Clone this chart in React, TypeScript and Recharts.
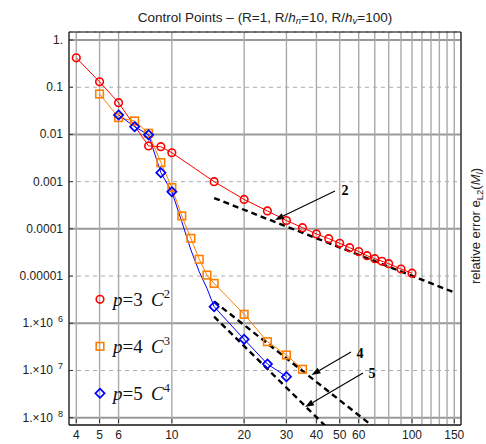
import React from "react"
import { LineChart, Line, XAxis, YAxis, CartesianGrid } from "recharts"

// error data (x = R/h, y = relative error)
const redX = [4, 5, 6, 8, 9, 10, 15, 20, 25, 30, 35, 40, 45, 50, 55, 60, 65, 70, 75, 80, 90, 100]
const redY = [
  0.42, 0.13, 0.047, 0.0057, 0.0055, 0.0041, 0.001, 0.00042, 0.00024, 0.00015, 0.000106, 0.000078, 0.000062,
  0.0000495, 0.00004, 0.000033, 0.000027, 0.0000234, 0.0000206, 0.0000183, 0.0000141, 0.0000115,
]

const orangeX = [5, 6, 7, 8, 9, 10, 11, 12, 13, 14, 15, 20, 25, 30, 35]
const orangeY = [
  0.072, 0.0227, 0.0193, 0.0106, 0.00253, 0.00075, 0.000188, 0.000063, 0.0000227, 0.0000105, 0.000007, 0.00000155,
  4.07e-7, 2.13e-7, 1.06e-7,
]

const blueX = [6, 7, 8, 9, 10, 11, 12, 13, 14, 15, 20, 25, 30]
const blueY = [
  0.0259, 0.0146, 0.0098, 0.00155, 0.000613, 0.000142, 0.000036, 0.0000124, 0.0000055, 2.25e-6, 4.57e-7, 1.37e-7,
  7.4e-8,
]
const blueNoMarker = [11, 12, 13, 14]

// convergence-rate guide lines (endpoints)
const rate2X = [15, 150]
const rate2Y = [4.5e-4, 4.5e-6]
const rate4X = [15, 70]
const rate4Y = [2.9e-6, 6.1e-9]
const rate5X = [15, 45]
const rate5Y = [1.38e-6, 5.7e-9]

// axes
const xGridTicks = [4, 5, 6, 10, 20, 30, 40, 50, 60, 70, 80, 90, 100, 110, 120, 130, 140, 150]
const xLabels = [4, 5, 6, 10, 20, 30, 40, 50, 60, 100, 150]
const yTicks = [1e-8, 1e-7, 1e-6, 1e-5, 1e-4, 1e-3, 0.01, 0.1, 1]
const yLabels = ["1.×10", "1.×10", "1.×10", "0.00001", "0.0001", "0.001", "0.01", "0.1", "1."]
const ySup = ["8", "7", "6", "", "", "", "", "", ""]

const legendNames = ["3", "4", "5"]
const legendSup = ["2", "3", "4"]

const RED = "#ff0000"
const ORANGE = "#ff8000"
const BLUE = "#0000ff"
const SANS = "'Liberation Sans', Arial, sans-serif"
const SERIF = "'Liberation Serif', 'Times New Roman', serif"

const toPoints = (xs: number[], ys: number[]) => xs.map((x, i) => ({ x, y: ys[i] }))

type MarkerKind = "circle" | "square" | "diamond"

function Marker({ kind, cx, cy, color }: { kind: MarkerKind; cx: number; cy: number; color: string }) {
  if (kind === "circle") return <circle cx={cx} cy={cy} r={3.8} fill="none" stroke={color} strokeWidth={1.6} />
  if (kind === "square")
    return <rect x={cx - 3.8} y={cy - 3.8} width={7.6} height={7.6} fill="none" stroke={color} strokeWidth={1.6} />
  const d = 4.6
  return (
    <polygon
      points={`${cx},${cy - d} ${cx + d},${cy} ${cx},${cy + d} ${cx - d},${cy}`}
      fill="none"
      stroke={color}
      strokeWidth={1.7}
    />
  )
}

const series = [
  { key: "p3", data: toPoints(redX, redY), color: RED, kind: "circle" as MarkerKind, hidden: [] as number[] },
  { key: "p4", data: toPoints(orangeX, orangeY), color: ORANGE, kind: "square" as MarkerKind, hidden: [] as number[] },
  { key: "p5", data: toPoints(blueX, blueY), color: BLUE, kind: "diamond" as MarkerKind, hidden: blueNoMarker },
]

const guides = [toPoints(rate2X, rate2Y), toPoints(rate4X, rate4Y), toPoints(rate5X, rate5Y)]

const YTick = (props: any) => {
  const { x, y, payload } = props
  const i = yTicks.indexOf(payload.value)
  return (
    <g>
      <line x1={x + 6} x2={x + 10} y1={y} y2={y} stroke="#333" />
      <text x={x} y={y + 4} textAnchor="end" fontFamily={SANS} fontSize={12} fill="#222">
        <tspan>{yLabels[i]}</tspan>
        {ySup[i] && (
          <tspan dx={5} dy={-5} fontSize={9}>
            {ySup[i]}
          </tspan>
        )}
      </text>
    </g>
  )
}

const XTick = (props: any) => {
  const { x, y, payload } = props
  if (!xLabels.includes(payload.value)) return <g />
  return (
    <g>
      <line x1={x} x2={x} y1={y - 6} y2={y - 10} stroke="#333" />
      <text x={x} y={y + 10} textAnchor="middle" fontFamily={SANS} fontSize={12} fill="#222">
        {payload.value}
      </text>
    </g>
  )
}

const Arrow = ({ x1, y1, x2, y2 }: { x1: number; y1: number; x2: number; y2: number }) => {
  const a = Math.atan2(y2 - y1, x2 - x1)
  const L = 9
  const W = 3.2
  const bx = x2 - L * Math.cos(a)
  const by = y2 - L * Math.sin(a)
  const px = -Math.sin(a) * W
  const py = Math.cos(a) * W
  return (
    <g>
      <line x1={x1} y1={y1} x2={bx} y2={by} stroke="#000" strokeWidth={1.1} />
      <polygon points={`${x2},${y2} ${bx + px},${by + py} ${bx - px},${by - py}`} fill="#000" />
    </g>
  )
}

export default function App() {
  return (
    <div style={{ position: "fixed", left: 0, top: 0, width: 486, height: 444, background: "#fff" }}>
      <LineChart width={486} height={444} margin={{ top: 0, right: 0, bottom: 0, left: 0 }}>
        <CartesianGrid
          horizontal={(p: any) => (
            <line
              key={`h-${p.index}`}
              x1={p.x1}
              x2={p.x2}
              y1={p.y1}
              y2={p.y2}
              stroke={p.index % 2 === 0 ? "#999" : "#aaa"}
              strokeWidth={p.index % 2 === 0 ? 2 : 1}
              strokeDasharray={p.index % 2 === 0 ? undefined : "4 4"}
            />
          )}
          vertical={(p: any) => (
            <line key={`v-${p.index}`} x1={p.x1} x2={p.x2} y1={p.y1} y2={p.y2} stroke="#aaa" strokeWidth={1.4} />
          )}
        />
        <XAxis
          dataKey="x"
          type="number"
          scale="log"
          domain={[3.73, 160]}
          allowDataOverflow
          ticks={xGridTicks}
          interval={0}
          height={19}
          tickSize={0}
          tickMargin={4}
          tick={<XTick />}
          axisLine={{ stroke: "#000" }}
        />
        <XAxis
          xAxisId="top"
          dataKey="x"
          type="number"
          scale="log"
          domain={[3.73, 160]}
          allowDataOverflow
          orientation="top"
          height={32}
          tick={false}
          tickLine={false}
          axisLine={{ stroke: "#000" }}
        />
        <YAxis
          type="number"
          scale="log"
          domain={[7e-9, 1.48]}
          allowDataOverflow
          ticks={yTicks}
          interval={0}
          width={69}
          tickSize={0}
          tickMargin={6}
          tick={<YTick />}
          axisLine={{ stroke: "#000" }}
        />
        <YAxis
          yAxisId="right"
          type="number"
          scale="log"
          domain={[7e-9, 1.48]}
          allowDataOverflow
          orientation="right"
          width={25}
          tick={false}
          tickLine={false}
          axisLine={{ stroke: "#000" }}
        />
        {series.map((s) => (
          <Line
            key={s.key}
            data={s.data}
            dataKey="y"
            type="linear"
            stroke={s.color}
            strokeWidth={1}
            isAnimationActive={false}
            legendType="none"
            dot={(p: any) =>
              s.hidden.includes(p.payload.x) ? (
                <g key={p.index} />
              ) : (
                <g key={p.index}>
                  <Marker kind={s.kind} cx={p.cx} cy={p.cy} color={s.color} />
                </g>
              )
            }
            activeDot={false}
          />
        ))}
        {guides.map((g, i) => (
          <Line
            key={`g${i}`}
            data={g}
            dataKey="y"
            type="linear"
            stroke="#000"
            strokeWidth={2.4}
            strokeDasharray="6 4"
            dot={false}
            activeDot={false}
            isAnimationActive={false}
            legendType="none"
          />
        ))}
      </LineChart>
      <svg
        width={486}
        height={444}
        style={{ position: "absolute", left: 0, top: 0, pointerEvents: "none" }}
      >
        <text x={265} y={21.5} textAnchor="middle" fontFamily={SANS} fontSize={13.5} fill="#222">
          <tspan>Control Points – (R=1, R/</tspan>
          <tspan fontStyle="italic">h</tspan>
          <tspan fontSize={9.5} dy={2.5} fontStyle="italic">n</tspan>
          <tspan dy={-2.5}>=10, R/</tspan>
          <tspan fontStyle="italic">h</tspan>
          <tspan fontSize={9.5} dy={2.5} fontStyle="italic">v</tspan>
          <tspan dy={-2.5}>=100)</tspan>
        </text>
        <g transform="translate(480,226) rotate(-90)">
          <text x={0} y={0} textAnchor="middle" fontFamily={SANS} fontSize={13} fill="#222">
            <tspan>relative error e</tspan>
            <tspan fontSize={9.5} dy={3}>L2</tspan>
            <tspan dy={-3}>(</tspan>
            <tspan fontStyle="italic">M</tspan>
            <tspan fontSize={9.5} dy={3} fontStyle="italic">l</tspan>
            <tspan dy={-3}>)</tspan>
          </text>
        </g>
        {/* legend */}
        {series.map((s, i) => {
          const cy = 299.3 + i * 47
          return (
            <g key={s.key}>
              <Marker kind={s.kind} cx={100} cy={cy} color={s.color} />
              <text x={113} y={cy + 7} fontFamily={SERIF} fontSize={19} fill="#111">
                <tspan fontStyle="italic">p</tspan>
                <tspan>={legendNames[i]}</tspan>
                <tspan x={151} fontStyle="italic">C</tspan>
                <tspan dy={-8} fontSize={12.5}>{legendSup[i]}</tspan>
              </text>
            </g>
          )
        })}
        {/* rate annotations */}
        <Arrow x1={335} y1={191} x2={275} y2={220} />
        <text x={345} y={195} textAnchor="middle" fontFamily={SERIF} fontWeight="bold" fontSize={14}>
          2
        </text>
        <Arrow x1={351} y1={352} x2={311.5} y2={375} />
        <text x={360} y={357.5} textAnchor="middle" fontFamily={SERIF} fontWeight="bold" fontSize={14}>
          4
        </text>
        <Arrow x1={363} y1={373} x2={305} y2={407} />
        <text x={372} y={377.5} textAnchor="middle" fontFamily={SERIF} fontWeight="bold" fontSize={14}>
          5
        </text>
      </svg>
    </div>
  )
}
